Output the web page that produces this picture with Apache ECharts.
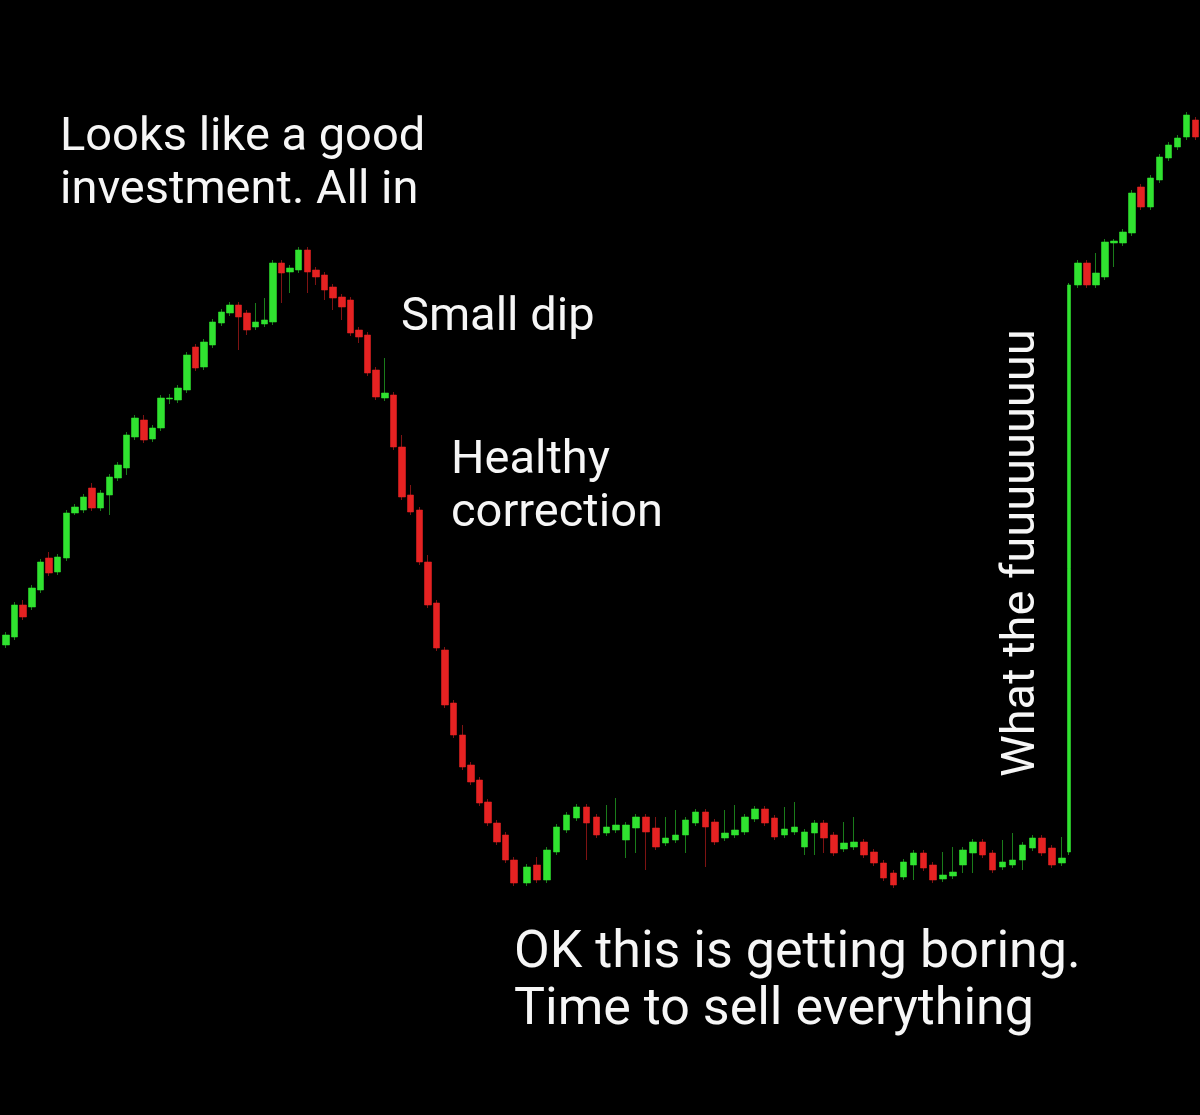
<!DOCTYPE html>
<html><head><meta charset="utf-8">
<script src="https://cdn.jsdelivr.net/npm/echarts@6/dist/echarts.min.js"></script>
<style>html,body{margin:0;padding:0;background:#000}#c{width:1200px;height:1115px}</style>
</head><body><div id="c"></div>
<script>
// Candles as [open, close, low, high]
const riseAndCrash = [
  [470,480,467,483],[478,510,475,513],[510,498,495,515],[508,527,505,530],[525,553,522,556],
  [557,542,539,563],[543,558,540,561],[557,602,554,605],[602,608,600,611],[605,618,602,621],
  [627,607,604,632],[607,622,604,625],[620,638,600,641],[637,650,634,653],[647,680,640,683],
  [678,697,675,700],[695,675,672,700],[676,687,673,690],[687,717,684,720],[716,717,711,721],
  [715,727,712,730],[725,760,722,763],[768,747,744,771],[748,773,745,776],[770,793,767,796],
  [792,803,789,806],[802,810,799,813],[810,798,765,813],[802,785,780,805],[788,793,785,812],
  [791,795,788,817],[793,852,790,855],[852,842,812,855],[843,847,822,850],[845,865,842,868],
  [865,843,822,868],[845,838,830,848],[840,825,815,843],[828,817,805,831],[818,808,795,821],
  [815,782,779,818],[785,778,772,788],[780,742,739,783],[745,718,715,748],[717,722,714,757],
  [720,668,665,723],[668,618,615,680],[620,603,600,630],[605,553,550,608],[553,510,507,560],
  [512,467,464,515],[465,410,407,468],[412,380,377,415],[380,348,345,390],[350,333,330,353],
  [335,312,309,338],[313,292,289,316],[292,273,270,295],[280,255,252,283],[255,232,229,258]
];
const sideways = [
  [232,248,229,251],[250,235,232,258],[235,265,232,268],[263,288,260,291],[285,300,282,303],
  [297,308,294,311],[308,292,255,311],[298,280,277,301],[282,288,279,310],[285,290,282,317],
  [275,290,257,293],[287,298,262,301],[298,283,245,301],[287,268,265,298],[272,277,269,298],
  [275,280,272,305],[280,295,262,298],[292,303,289,306],[303,288,248,306],[293,273,270,296],
  [277,282,274,305],[280,285,277,310],[283,298,280,301],[296,306,293,309],[306,292,289,309],
  [297,278,275,300],[280,286,277,308],[283,288,280,313],[268,283,260,286],[282,292,260,295],
  [292,277,262,295],[280,262,259,283],[266,272,263,293],[268,273,265,298],[273,260,257,276],
  [263,252,249,266],[252,237,234,255],[242,230,227,245],[238,253,235,256],[250,262,235,265],
  [262,247,244,265],[250,235,232,253],[236,240,233,263],[239,243,236,268],[250,265,242,268],
  [262,273,242,276],[273,260,257,276],[262,245,242,265],[248,253,245,275],[250,255,247,282],
  [255,270,245,273],[267,277,264,280],[277,262,259,280],[267,250,247,270],[252,257,249,278]
];
const moonshot = [
  [263,830,260,832],[830,852,827,855],[852,830,827,855],[830,842,827,862],[838,873,835,876],
  [872,874,848,876],[872,883,869,886],[882,922,879,925],[928,908,905,931],[908,937,905,940],
  [935,958,932,961],[957,970,954,973],[968,977,965,980],[978,1000,975,1003],[995,978,975,998]
];
const captionTop = ['Looks like a good', 'investment. All in'];
const captionDip = ['Small dip'];
const captionCorrection = ['Healthy', 'correction'];
const captionBoring = ['OK this is getting boring.', 'Time to sell everything'];
const captionPump = 'What the fuuuuuuuuu';

const segments = [riseAndCrash, sideways, moonshot];
// grid placement (pixels): left edge and width of each segment's band
const gridBoxes = [
  {left: 1.7, width: 516.6},
  {left: 522.05, width: 544.9},
  {left: 1064.4, width: 139.3}
];
const GREEN = '#30e230', RED = '#e52222';
const candleStyle = {color: GREEN, color0: RED, borderColor: 'rgba(48,226,48,0.55)', borderColor0: 'rgba(229,34,34,0.55)', borderWidth: 1};

const grids = [], xAxes = [], yAxes = [], series = [];
segments.forEach((seg, i) => {
  grids.push({left: gridBoxes[i].left, width: gridBoxes[i].width, top: 0, height: 1115, containLabel: false});
  xAxes.push({type: 'category', gridIndex: i, boundaryGap: true, show: false,
    data: seg.map((_, k) => 'S' + (i + 1) + '-' + (k + 1))});
  yAxes.push({type: 'value', gridIndex: i, min: 0, max: 1115, show: false, splitLine: {show: false}});
  const isMoon = i === 2;
  series.push({
    type: 'candlestick', xAxisIndex: i, yAxisIndex: i, barWidth: 7, clip: false,
    data: isMoon ? seg.map((d, k) => k === 0 ? '-' : d) : seg,
    itemStyle: candleStyle
  });
  if (isMoon) {
    // the single huge pump candle is drawn thinner
    series.push({
      type: 'candlestick', xAxisIndex: i, yAxisIndex: i, barWidth: 4, clip: false,
      data: seg.map((d, k) => k === 0 ? d : '-'),
      itemStyle: {color: GREEN, color0: RED, borderColor: 'rgba(48,226,48,0.6)', borderColor0: RED, borderWidth: 1}
    });
  }
});

function txt(t, x, y, size) {
  return {type: 'text', x: x, y: y, silent: true,
    style: {text: t, fill: '#f6f6f6', fontSize: size, fontFamily: 'Roboto', align: 'left', verticalAlign: 'middle'}};
}
const graphics = [
  txt(captionTop[0], 60, 138, 47), txt(captionTop[1], 60, 191, 47),
  txt(captionDip[0], 401, 318, 47),
  txt(captionCorrection[0], 451, 461, 47), txt(captionCorrection[1], 451, 514, 47),
  txt(captionBoring[0], 514, 954, 52), txt(captionBoring[1], 514, 1011, 52),
  {type: 'text', x: 1022, y: 777, rotation: Math.PI / 2, silent: true,
    style: {text: captionPump, fill: '#f6f6f6', fontSize: 47, fontFamily: 'Roboto', align: 'left', verticalAlign: 'middle'}}
];

const chart = echarts.init(document.getElementById('c'), null, {renderer: 'canvas'});
chart.setOption({
  backgroundColor: '#000',
  animation: false,
  grid: grids, xAxis: xAxes, yAxis: yAxes, series: series,
  graphic: graphics
});
</script></body></html>
